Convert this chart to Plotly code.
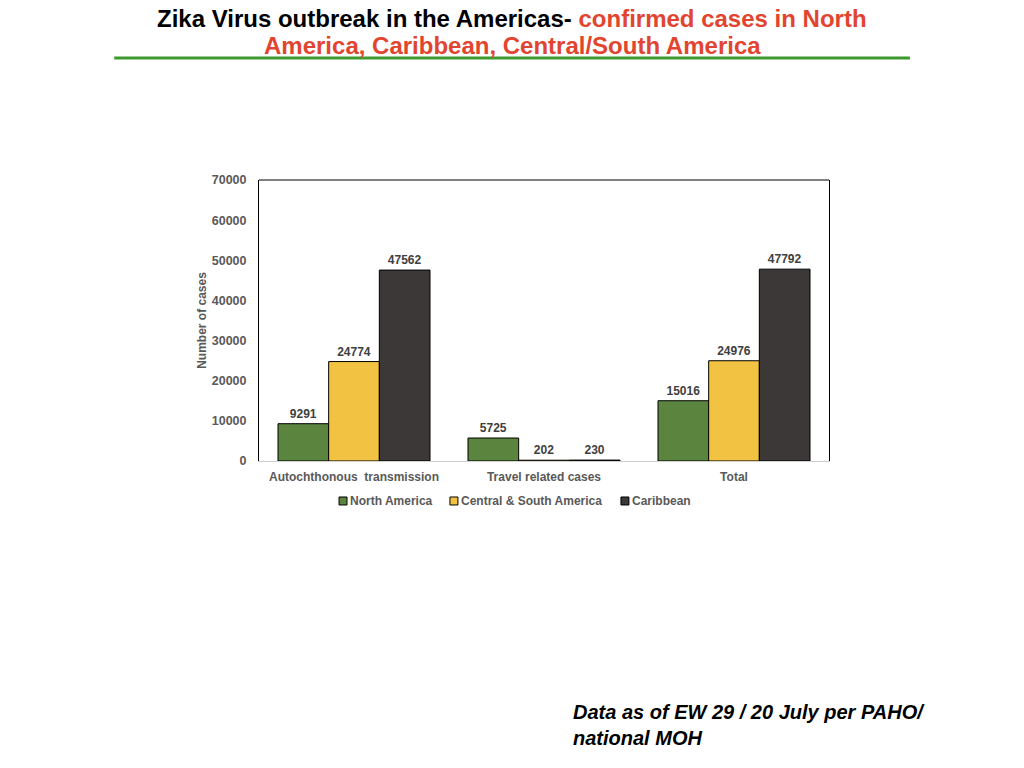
import plotly.graph_objects as go

# categories and series
categories = ["Autochthonous  transmission", "Travel related cases", "Total"]
north_america = [9291, 5725, 15016]
central_south_america = [24774, 202, 24976]
caribbean = [47562, 230, 47792]

series_names = ["North America", "Central & South America", "Caribbean"]
series_colors = ["#5b843f", "#f2c343", "#3c3837"]
series_values = [north_america, central_south_america, caribbean]

y_ticks = [0, 10000, 20000, 30000, 40000, 50000, 60000, 70000]

base_font = "Liberation Sans, Arial"
axis_font = dict(family=base_font, size=12, color="#595959")

fig = go.Figure()

for name, values, color in zip(series_names, series_values, series_colors):
    fig.add_trace(go.Bar(
        x=categories, y=values, name=name, showlegend=False,
        marker=dict(color=color, line=dict(color="black", width=1)),
        text=[str(v) for v in values], texttemplate="<b>%{text}</b>",
        textposition="outside",
        textfont=dict(family=base_font, size=12, color="#404040"),
        cliponaxis=False,
    ))

# the page body adds 8px, so margins are shifted to keep the plot frame in place
fig.update_layout(
    width=1024, height=768,
    paper_bgcolor="white", plot_bgcolor="white",
    margin=dict(l=251, r=203, t=172, b=315),
    barmode="group", bargap=0.2, bargroupgap=0,
    showlegend=False,
    font=axis_font,
)

fig.update_xaxes(showline=True, linecolor="#d0d0d0", linewidth=1,
                 ticks="", tickfont=axis_font, showgrid=False, ticklabelstandoff=5,
                 tickvals=categories, ticktext=["<b>" + c + "</b>" for c in categories])
fig.update_yaxes(range=[0, 70000], tickvals=y_ticks,
                 ticktext=["<b>" + str(v) + "</b>" for v in y_ticks],
                 showgrid=False, showline=True, linecolor="black", linewidth=1, mirror=True,
                 ticks="", tickfont=dict(family=base_font, size=12.5, color="#595959"),
                 zeroline=False, ticklabelstandoff=9,
                 title=dict(text="<b>Number of cases</b>", font=axis_font, standoff=2))

# top border of plot frame
fig.add_shape(type="line", xref="x domain", yref="y domain", x0=0, x1=1, y0=1, y1=1,
              line=dict(color="black", width=1))

# legend drawn by hand so the swatch sits right next to its label
legend_x = [0.1474, 0.342, 0.642]
legend_y = -0.1423
for name, color, lx in zip(series_names, series_colors, legend_x):
    fig.add_shape(type="rect", xref="paper", yref="paper",
                  x0=lx - 0.0070, x1=lx + 0.0070, y0=legend_y - 0.0142, y1=legend_y + 0.0142,
                  line=dict(color="black", width=1), fillcolor=color)
    fig.add_annotation(xref="paper", yref="paper", x=lx + 0.009, y=legend_y,
                       xanchor="left", yanchor="middle", showarrow=False,
                       text="<b>" + name + "</b>", font=axis_font)

# green rule under the title
fig.add_shape(type="line", xref="paper", yref="paper", x0=-0.254, x1=1.142, y0=1.434, y1=1.434,
              line=dict(color="#3c9a2e", width=3))

title_font = "Liberation Sans, Arial"
fig.add_annotation(
    xref="paper", yref="paper", x=0.444, y=1.576, xanchor="center", yanchor="middle",
    text="<b>Zika Virus outbreak in the Americas- <span style='color:#e2452f'>confirmed cases in North</span></b>",
    showarrow=False, borderpad=0, font=dict(family=title_font, size=24, color="black"))
fig.add_annotation(
    xref="paper", yref="paper", x=0.444, y=1.480, xanchor="center", yanchor="middle",
    text="<b>America, Caribbean, Central/South America</b>",
    showarrow=False, borderpad=0, font=dict(family=title_font, size=24, color="#e2452f"))

# footnote
fig.add_annotation(
    xref="paper", yref="paper", x=0.548, y=-0.938, xanchor="left", yanchor="middle",
    text="<b><i>Data as of EW 29 / 20 July per PAHO/<br>national MOH</i></b>",
    align="left", showarrow=False,
    font=dict(family=base_font, size=20, color="black"))

fig.write_html("out.html")
